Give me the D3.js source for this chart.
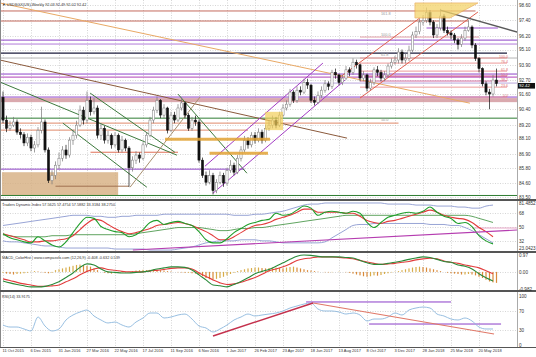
<!DOCTYPE html>
<html><head><meta charset="utf-8">
<script src="https://cdn.jsdelivr.net/npm/d3@7"></script>
<style>body{margin:0;background:#fff}svg{display:block}text{font-family:"Liberation Sans",Arial,sans-serif}</style>
</head><body><svg id="c" width="536" height="357"></svg>
<script>
// ---------------- DATA ----------------
const dateLabels = ["11 Oct 2015","6 Dec 2015","31 Jan 2016","27 Mar 2016","22 May 2016","17 Jul 2016","11 Sep 2016","6 Nov 2016","1 Jan 2017","26 Feb 2017","23 Apr 2017","18 Jun 2017","13 Aug 2017","8 Oct 2017","3 Dec 2017","28 Jan 2018","25 Mar 2018","20 May 2018"];
const dateTickWeeks = [0,8,16,24,32,40,48,56,64,72,80,88,96,104,112,120,128,136];
const priceTicks = [98.60,97.40,96.20,95.10,93.90,92.70,91.60,90.40,89.20,88.10,86.90,85.80,84.60,83.50];
const tdiTicks = [81.4852,68,50,32,23.0423];
const macdTicks = [0.97,0,-0.982];
const macdTickLabels = ["0.97","0.00","-0.982"];
const rsiTicks = [100,70,30,0];
const lastPrice = 92.42;
const firstOpen = 91.35;
const closes = [89.55,88.90,89.15,89.40,88.60,88.40,87.75,88.20,87.35,87.60,
88.75,89.40,87.20,84.80,85.20,86.00,86.55,87.20,86.80,87.97,
88.36,89.15,90.33,89.55,91.10,90.20,90.50,88.36,88.90,87.97,
88.36,87.60,88.36,87.20,87.97,87.35,85.80,86.40,86.80,86.55,
87.60,88.36,89.55,90.33,91.10,89.94,90.50,88.76,89.94,89.55,
90.50,90.90,89.94,88.90,89.55,89.40,86.40,85.20,84.66,85.20,
84.00,84.66,85.20,84.60,85.60,86.00,85.45,86.55,87.20,87.97,
87.60,88.36,87.97,88.60,87.97,88.90,89.15,89.55,89.15,89.94,
90.50,90.80,91.75,91.10,91.90,91.75,92.50,92.30,91.10,90.95,
91.50,91.90,92.40,92.20,93.30,93.10,92.50,92.85,93.50,93.30,
94.10,93.90,92.85,93.10,92.06,92.50,93.50,93.30,92.85,93.10,
93.80,94.10,94.27,94.90,94.27,94.40,95.05,96.24,96.50,97.26,
97.40,98.00,97.26,96.24,96.80,97.73,96.60,96.40,96.24,95.85,
95.50,96.00,96.60,96.87,95.45,94.40,93.60,92.40,91.75,91.60,
92.70,92.42];
const highs = [91.8,89.9,89.5,89.8,89.6,88.9,88.6,88.5,88.4,87.9,
89.0,90.6,89.6,87.4,85.6,86.3,87.0,87.5,87.6,88.2,
88.8,89.5,90.7,90.6,91.8,91.4,91.3,90.7,89.3,89.1,
88.7,88.5,88.6,88.5,88.3,88.1,87.5,86.7,87.1,87.0,
87.8,88.6,89.8,90.6,91.4,91.2,90.8,90.6,90.2,90.2,
90.8,91.3,91.0,90.1,89.8,89.9,89.6,86.6,85.5,85.6,
85.4,84.9,85.5,85.4,85.8,86.4,86.2,86.8,87.5,88.3,
88.2,88.6,88.6,88.9,88.8,89.2,89.5,89.9,89.8,90.2,
90.8,91.1,92.0,91.9,92.2,92.2,92.8,92.8,92.4,91.4,
91.8,92.2,92.7,92.6,93.5,93.6,93.2,93.1,93.8,93.7,
94.4,94.3,94.0,93.4,93.2,92.8,93.7,93.8,93.5,93.4,
94.0,94.4,94.6,95.2,95.1,94.8,95.4,96.5,96.9,97.5,
97.8,98.4,98.2,97.4,97.1,98.3,97.9,96.9,96.6,96.4,
96.0,96.3,96.9,97.4,97.0,95.6,94.5,93.7,92.6,92.0,
93.1,93.6];
const lows = [89.3,88.6,88.7,89.0,88.4,88.1,87.5,87.5,87.1,87.0,
87.4,88.5,87.0,84.6,84.5,84.9,85.7,86.3,86.5,86.6,
87.6,88.1,89.0,89.2,89.3,89.9,90.0,88.1,88.0,87.7,
87.7,87.3,87.4,87.0,87.0,87.1,84.3,85.5,86.1,86.2,
86.4,87.4,88.2,89.3,90.1,89.7,89.7,88.5,88.6,89.3,
89.4,90.3,89.7,88.7,88.7,89.1,86.2,85.0,84.4,84.5,
83.7,83.8,84.5,84.3,84.4,85.4,85.2,85.3,86.3,87.0,
87.3,87.4,87.7,87.8,87.7,87.8,88.7,88.9,88.9,89.0,
89.8,90.3,90.6,90.9,90.9,91.5,91.6,92.0,90.9,90.7,
90.8,91.3,91.7,91.9,92.0,92.8,92.3,92.3,92.7,93.0,
93.1,93.6,92.6,92.6,91.8,91.9,92.3,93.0,92.6,92.6,
92.9,93.6,93.9,94.0,94.0,94.0,94.2,94.9,96.0,96.3,
97.0,97.2,97.0,96.0,96.0,96.6,96.4,96.2,95.9,95.6,
95.1,95.3,95.8,96.5,95.2,94.2,93.3,92.2,91.5,90.4,
91.4,92.2];

// indicator samples every 2 weeks (weeks 0..140)
const sampleWeeks = d3.range(0, 141, 2);
const tdiPrice = [41.6,36.3,33.7,31.0,29.7,37.6,32.3,27.0,24.4,31.0,43.0,54.9,62.9,61.5,50.9,47.0,44.3,43.0,37.6,40.3,47.0,56.2,58.9,53.6,56.2,57.6,54.9,52.3,44.3,33.7,29.7,29.7,35.0,43.0,48.3,53.6,56.2,58.9,60.2,68.2,65.5,66.9,72.2,77.5,74.8,65.5,69.5,70.8,69.5,68.2,70.8,68.2,56.2,49.6,56.2,62.9,65.5,68.2,69.5,68.2,70.8,76.2,69.5,64.2,61.5,54.9,56.2,50.9,39.0,32.3,28.4];
const tdiSignal = [41.6,39.0,36.3,33.7,31.0,31.0,32.3,32.3,33.7,35.0,39.0,47.0,54.9,60.2,58.9,53.6,48.3,44.3,41.6,43.0,45.6,48.3,52.3,53.6,54.9,56.2,54.9,52.3,48.3,44.3,39.0,33.7,33.7,37.6,43.0,48.3,52.3,53.6,56.2,60.2,62.9,65.5,69.5,73.5,73.5,69.5,69.5,69.5,69.5,68.2,68.2,64.2,58.9,56.2,54.9,57.6,58.9,61.5,64.2,66.9,69.5,72.2,69.5,65.5,62.9,61.5,60.2,56.2,49.6,44.3,37.6];
const tdiBase = [40.3,39.0,37.6,37.6,37.6,37.6,37.6,39.0,39.0,39.0,40.3,40.3,40.3,40.3,40.3,40.3,40.3,40.3,40.3,41.6,43.0,44.3,45.6,47.0,48.3,49.6,49.6,49.6,49.6,48.3,47.0,45.6,45.6,47.0,48.3,48.3,49.6,49.6,50.9,52.3,53.6,54.9,56.2,57.6,58.9,60.2,61.5,62.9,64.2,65.5,65.5,65.5,65.5,65.5,65.5,65.5,65.5,65.5,65.5,65.5,65.5,65.5,65.5,65.5,65.5,65.5,65.5,64.2,61.5,58.9,56.2];
const tdiUpper = [52.3,53.6,54.9,56.2,57.6,58.9,60.2,61.5,62.9,64.2,65.5,65.5,65.5,64.2,64.2,62.9,62.9,64.2,64.2,65.5,65.5,65.5,65.5,66.9,66.9,66.9,66.9,66.9,66.9,66.9,66.9,66.9,66.9,65.5,65.5,65.5,66.9,66.9,68.2,69.5,70.8,73.5,76.2,78.8,80.1,80.1,81.5,81.5,81.5,81.5,81.5,81.5,81.5,81.5,81.5,80.1,80.1,80.1,80.1,78.8,78.8,78.8,77.5,77.5,77.5,76.2,76.2,74.8,74.8,77.5,78.8];
const tdiLower = [32.3,31.0,31.0,29.7,28.4,27.0,25.7,25.7,24.4,23.0,23.0,23.0,23.0,23.0,23.0,23.0,21.7,21.7,21.7,21.7,21.7,20.4,20.4,20.4,20.4,21.7,23.0,24.4,27.0,29.7,31.0,32.3,32.3,32.3,33.7,33.7,33.7,32.3,32.3,31.0,29.7,29.7,29.7,29.7,29.7,29.7,31.0,36.3,41.6,47.0,52.3,53.6,53.6,54.9,54.9,54.9,54.9,54.9,54.9,54.9,54.9,53.6,53.6,53.6,52.3,52.3,49.6,45.6,40.3,35.0,29.7];
const macdMain = [-0.52,-0.63,-0.72,-0.80,-0.86,-0.86,-0.83,-0.72,-0.57,-0.32,-0.06,0.26,0.46,0.40,0.17,0.00,-0.03,-0.06,-0.06,-0.03,0.00,0.06,0.17,0.23,0.29,0.29,0.26,0.11,-0.17,-0.46,-0.75,-0.80,-0.86,-0.72,-0.55,-0.34,-0.11,0.03,0.14,0.32,0.52,0.72,0.90,0.97,0.95,0.89,0.86,0.86,0.86,0.83,0.80,0.66,0.52,0.43,0.43,0.49,0.55,0.63,0.72,0.80,0.86,0.83,0.72,0.60,0.55,0.40,0.32,0.17,-0.11,-0.34,-0.52];
const macdSignal = [-0.40,-0.49,-0.60,-0.69,-0.75,-0.83,-0.83,-0.80,-0.75,-0.57,-0.40,-0.17,0.03,0.17,0.23,0.14,0.09,0.03,0.00,0.00,0.00,0.06,0.09,0.14,0.20,0.23,0.23,0.17,-0.06,-0.26,-0.46,-0.63,-0.72,-0.69,-0.60,-0.46,-0.32,-0.14,0.06,0.17,0.29,0.46,0.66,0.75,0.80,0.86,0.86,0.86,0.83,0.80,0.75,0.66,0.57,0.49,0.43,0.46,0.49,0.55,0.60,0.69,0.75,0.78,0.75,0.63,0.55,0.49,0.40,0.32,0.23,0.06,-0.11];
const macdHist = [-0.05,-0.1,-0.12,-0.15,-0.12,-0.1,-0.08,-0.05,0.02,0.05,0.03,-0.02,-0.05,-0.08,-0.05,
0.1,0.15,0.2,0.25,0.3,0.35,0.4,0.42,0.4,0.35,0.3,0.2,0.1,
0.0,-0.05,-0.08,-0.1,-0.08,-0.05,-0.03,0.0,
0.02,0.05,0.08,0.1,0.12,0.1,0.12,0.15,0.12,0.1,0.08,0.05,0.03,
0.0,-0.02,-0.03,-0.05,-0.05,-0.08,-0.1,-0.15,
-0.25,-0.35,-0.42,-0.45,-0.4,-0.35,-0.28,-0.2,-0.12,-0.05,
0.05,0.1,0.15,0.2,0.22,0.25,0.25,0.22,0.2,0.22,0.25,0.25,0.22,0.2,0.25,0.28,0.3,0.25,0.2,0.15,0.1,0.08,0.05,0.02,
0.0,-0.02,-0.03,-0.02,0.0,0.02,0.0,-0.02,-0.05,
-0.1,-0.15,-0.2,-0.25,-0.28,-0.25,-0.2,-0.22,-0.18,-0.12,-0.08,-0.03,
0.02,0.05,0.1,0.15,0.2,0.25,0.28,0.3,0.28,0.25,0.2,0.15,0.1,0.05,0.0,
-0.05,-0.08,-0.1,-0.12,-0.15,-0.15,-0.12,-0.15,-0.2,-0.28,-0.35,-0.45,-0.55,-0.6,-0.63];
const rsiValues = [40.8,36.7,36.7,32.7,28.6,57.1,38.8,28.6,32.7,51.0,61.2,67.3,71.4,59.2,51.0,44.9,46.9,40.8,36.7,46.9,55.1,65.3,65.3,55.1,57.1,61.2,63.2,53.0,38.8,34.7,26.5,32.7,40.8,51.0,57.1,63.2,59.2,61.2,63.2,65.3,69.4,75.5,79.6,83.6,85.7,73.4,69.4,69.4,67.3,63.2,65.3,61.2,49.0,53.0,53.0,57.1,65.3,61.2,71.4,75.5,77.5,75.5,63.2,59.2,53.0,51.0,55.1,49.0,36.7,32.7,32.7];

// drawn objects (week index, price)
const levelLines = [[98.13,-1,135],[97.34,-1,133],[96.08,102,136],[95.84,-1,147],[95.53,-1,147],[94.82,-1,144],[94.43,-1,147],[93.17,-1,147],[92.93,-1,147],[92.46,-1,147],[91.36,-1,147],[89.70,-1,147],[89.31,-1,113],[88.76,-1,70],[87.02,25,50],[85.69,-1,69],[84.35,15,36],[83.62,-1,147],[96.79,121,141.4]];
const trendLines = [[-0.86,98.76,133.4,90.88],[-0.86,94.27,98.3,88.13],[-0.86,92.54,49.7,86.79],[17.1,89.31,41.1,84.27],[24.9,91.67,49.1,87.02],[50,91.59,69.7,85.37],[36.3,84.27,56.3,91.36],[60,83.8,97.7,92.69],[57.7,85.92,91.4,94.03],[102,91.28,135.7,98.05],[96.3,92.93,119.1,97.58],[124.9,98.2,146.9,96.47]];
const fibRightLevels = [94.43,94.03,93.40,93.01,92.62,92.14,91.36];
const fibRightLabels = ["100.0","76.4","61.8","50.0","38.2","23.6","0.0"];
const fibLeftLevels = [97.80,96.16,94.58,89.47];
const fibLeftLabels = ["161.8","100.0","61.8","50.0"];
const ochreBox = [-0.3,32.9,85.45,83.64];
const pinkBand = [-1,147,91.28,90.96];
const yellowBox = [74.9,80,90.2,88.76];
const goldBars = [[88.05,46.3,76.3],[86.95,59,75.7]];
const topYellow = [[117.7,98.76],[135.7,98.76],[127.7,97.58],[117.7,97.58]];
const tdiTrend = [37.1,20.4,146.9,46.4];
const tdiLevel = [49.0,134,147];
const rsiTrend = [[60,18.4,88.6,85.7],[88.6,85.7,140.3,22.4]];
const rsiLevels = [[87.8,86.6,128],[42.8,104.6,142.3]];

// ---------------- DRAW ----------------
const svg = d3.select("#c");
const plotR = 517;
const x = d3.scaleLinear().domain([0,141]).range([3,496.5]);
const yP = d3.scaleLinear().domain([83.5,98.6]).range([197,5]);
const yT = d3.scaleLinear().domain([23.0423,81.4852]).range([248,203]);
const yM = d3.scaleLinear().domain([-0.982,0.97]).range([289,255]);
const yR = d3.scaleLinear().domain([0,100]).range([345,296]);
const panels = [
  {id:"p", top:0, bottom:199, y:yP, ticks:priceTicks},
  {id:"t", top:201, bottom:251, y:yT, ticks:[68,50,32]},
  {id:"m", top:253, bottom:290, y:yM, ticks:[0]},
  {id:"r", top:292, bottom:346, y:yR, ticks:[70,30]}
];
const defs = svg.append("defs");
panels.forEach(p=>{
  defs.append("clipPath").attr("id","clip"+p.id).append("rect")
    .attr("x",0).attr("y",p.top).attr("width",plotR).attr("height",p.bottom-p.top);
});
const G = {};
panels.forEach(p=>{ G[p.id] = svg.append("g").attr("clip-path",`url(#clip${p.id})`); });

// grid
svg.insert("g",":first-child").selectAll("line").data(dateTickWeeks).join("line")
  .attr("x1",d=>Math.round(x(d))+0.5).attr("x2",d=>Math.round(x(d))+0.5)
  .attr("y1",0).attr("y2",347).attr("stroke","#c4c4c4").attr("stroke-width",0.7).attr("stroke-dasharray","1,1.5");
panels.forEach(p=>{
  G[p.id].append("g").selectAll("line").data(p.ticks).join("line")
    .attr("x1",0).attr("x2",plotR).attr("y1",d=>Math.round(p.y(d))+0.5).attr("y2",d=>Math.round(p.y(d))+0.5)
    .attr("stroke","#c4c4c4").attr("stroke-width",0.7).attr("stroke-dasharray","1,1.5");
});

const gp = G.p;
// boxes
gp.append("rect").attr("x",x(ochreBox[0])).attr("width",x(ochreBox[1])-x(ochreBox[0]))
  .attr("y",yP(ochreBox[2])).attr("height",yP(ochreBox[3])-yP(ochreBox[2])).attr("fill","#d6ae80").attr("opacity",0.8);
gp.append("rect").attr("x",x(pinkBand[0])).attr("width",x(pinkBand[1])-x(pinkBand[0]))
  .attr("y",yP(pinkBand[2])).attr("height",yP(pinkBand[3])-yP(pinkBand[2])).attr("fill","#d39aa0").attr("opacity",0.85);

// level lines
const levelColors = ["#c46a5e","#c46a5e","#e3a0a8","#8e44c8","#b07ad8","#1c1c3c","#b4b4b4","#8e44c8","#b040b8","#bba6dc","#8e44c8","#2e7d32","#e08a6a","#e08a6a","#e07058","#8e44c8","#a07050","#2e7d32","#9a50d0"];
gp.append("g").selectAll("line").data(levelLines).join("line")
  .attr("x1",d=>x(d[1])).attr("x2",d=>x(d[2])).attr("y1",d=>yP(d[0])).attr("y2",d=>yP(d[0]))
  .attr("stroke",(d,i)=>levelColors[i]).attr("stroke-width",(d,i)=>i===5?1.3:1);
// right fib lines
gp.append("g").selectAll("line").data(fibRightLevels).join("line")
  .attr("x1",x(102)).attr("x2",x(144)).attr("y1",d=>yP(d)).attr("y2",d=>yP(d))
  .attr("stroke",(d,i)=>i===3||i===4?"#d0609a":"#eb8f8f").attr("stroke-width",(d,i)=>i===3?1.4:0.9);
svg.append("g").selectAll("text").data(fibRightLevels).join("text")
  .attr("x",x(144)+1).attr("y",d=>yP(d)-0.5).attr("text-anchor","end")
  .attr("font-size",3.6).attr("fill","#e07070").text((d,i)=>fibRightLabels[i]);
gp.append("g").selectAll("text").data(fibLeftLevels).join("text")
  .attr("x",x(108)).attr("y",d=>yP(d)).attr("font-size",3.8).attr("fill","#999").text((d,i)=>fibLeftLabels[i]);

// trend lines
const trendColors = ["#e9a965","#8b5a3c","#3d7a3d","#3d7a3d","#3d7a3d","#3d7a3d","#a89070","#a23cc4","#a23cc4","#e06050","#e06050","#5a5a5a"];
gp.append("g").selectAll("line").data(trendLines).join("line")
  .attr("x1",d=>x(d[0])).attr("y1",d=>yP(d[1])).attr("x2",d=>x(d[2])).attr("y2",d=>yP(d[3]))
  .attr("stroke",(d,i)=>trendColors[i]).attr("stroke-width",(d,i)=>i===11?1.3:1);

// candles
const candles = closes.map((c,i)=>({i, o: i===0?firstOpen:closes[i-1], c, h:highs[i], l:lows[i]}));
const cg = gp.append("g");
cg.selectAll("line").data(candles).join("line")
  .attr("x1",d=>x(d.i)).attr("x2",d=>x(d.i)).attr("y1",d=>yP(d.h)).attr("y2",d=>yP(d.l))
  .attr("stroke",d=>d.c>=d.o?"#777":"#111").attr("stroke-width",0.7);
cg.selectAll("rect").data(candles).join("rect")
  .attr("x",d=>x(d.i)-1.1).attr("width",2.2)
  .attr("y",d=>yP(Math.max(d.o,d.c))).attr("height",d=>Math.max(0.6,Math.abs(yP(d.o)-yP(d.c))))
  .attr("fill",d=>d.c>=d.o?"#fff":"#111").attr("stroke",d=>d.c>=d.o?"#777":"#111").attr("stroke-width",0.5);

// gold bars and yellow boxes
gp.append("g").selectAll("line").data(goldBars).join("line")
  .attr("x1",d=>x(d[1])).attr("x2",d=>x(d[2])).attr("y1",d=>yP(d[0])).attr("y2",d=>yP(d[0]))
  .attr("stroke","#e2a335").attr("stroke-width",3).attr("opacity",0.85);
gp.append("rect").attr("x",x(yellowBox[0])).attr("width",x(yellowBox[1])-x(yellowBox[0]))
  .attr("y",yP(yellowBox[2])).attr("height",yP(yellowBox[3])-yP(yellowBox[2])).attr("fill","#f2cf5a").attr("opacity",0.7);
gp.append("path").attr("d",d3.line().x(d=>x(d[0])).y(d=>yP(d[1]))(topYellow)+"Z")
  .attr("fill","#f4d46a").attr("opacity",0.75).attr("stroke","#e6a040").attr("stroke-width",0.8);

// TDI
const lt = d3.line().x((d,k)=>x(sampleWeeks[k])).y(d=>yT(d)).curve(d3.curveMonotoneX);
const gt = G.t;
gt.append("line").attr("x1",x(tdiLevel[1])).attr("x2",x(tdiLevel[2])).attr("y1",yT(tdiLevel[0])).attr("y2",yT(tdiLevel[0])).attr("stroke","#e8a8c8");
[[tdiUpper,"#8c9ad0",0.9],[tdiLower,"#8c9ad0",0.9],[tdiBase,"#4e9a4e",0.9],[tdiSignal,"#e23c3c",1.1],[tdiPrice,"#1f9e2a",1.1]].forEach(([s,c,w])=>{
  gt.append("path").attr("d",lt(s)).attr("fill","none").attr("stroke",c).attr("stroke-width",w);
});
gt.append("line").attr("x1",x(tdiTrend[0])).attr("y1",yT(tdiTrend[1])).attr("x2",x(tdiTrend[2])).attr("y2",yT(tdiTrend[3])).attr("stroke","#b53cb0").attr("stroke-width",1.1);

// MACD
const gm = G.m;
gm.append("g").selectAll("rect").data(macdHist).join("rect")
  .attr("x",(d,i)=>x(i)-0.6).attr("width",1.2)
  .attr("y",d=>yM(Math.max(0,d))).attr("height",d=>Math.abs(yM(d)-yM(0)))
  .attr("fill",(d,i)=>i>0&&d<macdHist[i-1]?"#d98a3a":"#d8ac4a");
const lm = d3.line().x((d,k)=>x(sampleWeeks[k])).y(d=>yM(d)).curve(d3.curveMonotoneX);
gm.append("path").attr("d",lm(macdSignal)).attr("fill","none").attr("stroke","#e23c3c").attr("stroke-width",1.1);
gm.append("path").attr("d",lm(macdMain)).attr("fill","none").attr("stroke","#2a8a3a").attr("stroke-width",1.1);

// RSI
const gr = G.r;
gr.append("g").selectAll("line").data(rsiLevels).join("line")
  .attr("x1",d=>x(d[1])).attr("x2",d=>x(d[2])).attr("y1",d=>yR(d[0])).attr("y2",d=>yR(d[0])).attr("stroke","#8a3dc8").attr("stroke-width",1);
const lr = d3.line().x((d,k)=>x(sampleWeeks[k])).y(d=>yR(d)).curve(d3.curveMonotoneX);
gr.append("path").attr("d",lr(rsiValues)).attr("fill","none").attr("stroke","#8cb8de").attr("stroke-width",0.9);
gr.append("g").selectAll("line").data(rsiTrend).join("line")
  .attr("x1",d=>x(d[0])).attr("y1",d=>yR(d[1])).attr("x2",d=>x(d[2])).attr("y2",d=>yR(d[3]))
  .attr("stroke",(d,i)=>i===0?"#c4304c":"#e07868").attr("stroke-width",(d,i)=>i===0?1.5:1.1);

// frames / separators
svg.append("line").attr("x1",0.5).attr("x2",0.5).attr("y1",0).attr("y2",347).attr("stroke","#888");
svg.append("line").attr("x1",plotR+0.5).attr("x2",plotR+0.5).attr("y1",0).attr("y2",347).attr("stroke","#aaa");
[200,252,291].forEach(yy=>svg.append("rect").attr("x",0).attr("y",yy-1).attr("width",536).attr("height",2).attr("fill","#555"));
svg.append("line").attr("x1",0).attr("x2",536).attr("y1",347.5).attr("y2",347.5).attr("stroke","#555");

// axes
function rightAxis(scale, vals, fmt){
  const g = svg.append("g").attr("transform",`translate(${plotR+1},0)`)
    .call(d3.axisRight(scale).tickValues(vals).tickSize(0).tickPadding(1).tickFormat(fmt));
  g.select(".domain").remove();
  g.attr("font-size",4.6).attr("font-family","Liberation Sans, Arial, sans-serif");
  g.selectAll("text").attr("fill","#333");
  return g;
}
rightAxis(yP, priceTicks, d3.format(".2f"));
rightAxis(yT, tdiTicks, d=>String(d));
rightAxis(yM, macdTicks, (d,i)=>macdTickLabels[i]);
rightAxis(yR, rsiTicks, d=>String(d));
// last price tag (sits just under the 92.70 label)
const tagY = yP(lastPrice);
svg.append("rect").attr("x",plotR+1).attr("y",tagY-0.6).attr("width",17).attr("height",5.6).attr("fill","#111");
svg.append("text").attr("x",plotR+2).attr("y",tagY+3.6).attr("font-size",4.4).attr("fill","#fff").text(lastPrice.toFixed(2));

const xa = svg.append("g").attr("transform","translate(0,349)")
  .call(d3.axisBottom(x).tickValues(dateTickWeeks).tickSize(0).tickPadding(0).tickFormat((d,i)=>dateLabels[i]));
xa.select(".domain").remove();
xa.attr("font-size",4).attr("font-family","Liberation Sans, Arial, sans-serif");
xa.selectAll("text").attr("text-anchor","start").attr("fill","#333").attr("dx",-1);

// titles
const titles = [[6,"\u25BC USDSGX(US),Weekly  92.03 92.49 92.02 92.42"],[206,"Traders Dynamic Index 57.5625 57.4754 57.5882 33.3184 38.2750"],[258.5,"MACD_ColorHist | www.compassfx.com (12,26,9) -0.408 -0.632 0.539"],[298,"RSI(14) 33.9175"]];
svg.append("g").selectAll("text").data(titles).join("text")
  .attr("x",2).attr("y",d=>d[0]).attr("font-size",3.8).attr("fill","#333").text(d=>d[1]);
</script></body></html>
